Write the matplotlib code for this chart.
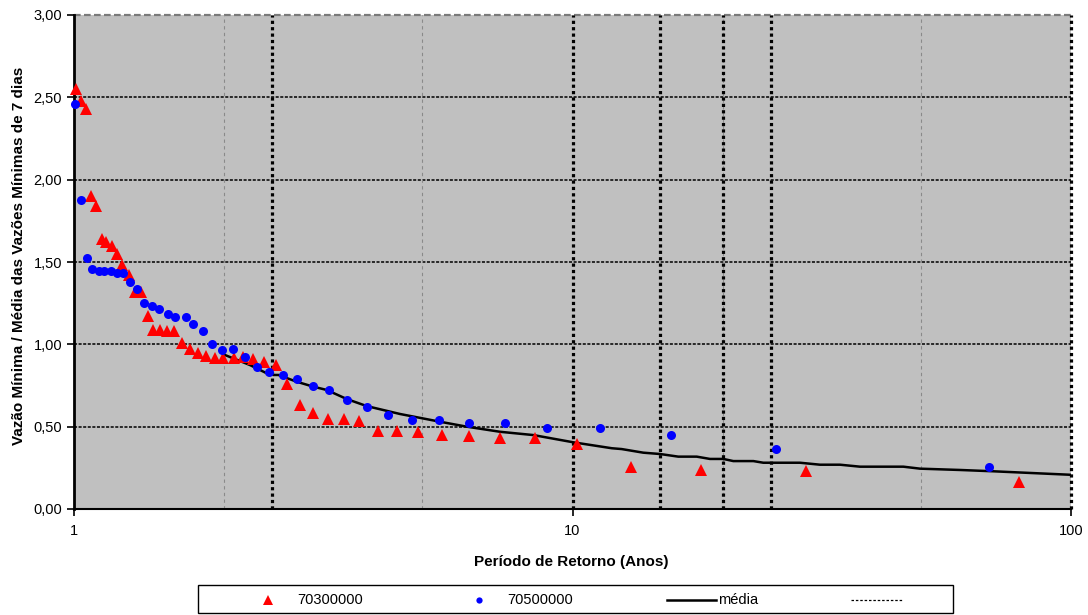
import matplotlib
matplotlib.use("Agg")
import matplotlib.pyplot as plt
from matplotlib.lines import Line2D
from matplotlib.patches import Rectangle
from matplotlib.ticker import NullLocator

plt.rcParams['font.family'] = ['Liberation Sans', 'DejaVu Sans']

# Station 70300000: return period (years) and ratio to mean 7-day minimum flow
t_70300000 = [1.009, 1.031, 1.055, 1.082, 1.107, 1.137, 1.158, 1.190, 1.218, 1.250,
              1.289, 1.326, 1.363, 1.405, 1.440, 1.488, 1.535, 1.587, 1.644, 1.709,
              1.776, 1.840, 1.918, 1.993, 2.094, 2.180, 2.283, 2.405, 2.539, 2.678,
              2.841, 3.012, 3.232, 3.480, 3.730, 4.072, 4.446, 4.898, 5.473, 6.209,
              7.153, 8.402, 10.22, 13.09, 18.13, 29.4, 78.8]
v_70300000 = [2.55, 2.48, 2.43, 1.90, 1.84, 1.64, 1.62, 1.60, 1.55, 1.48,
              1.42, 1.32, 1.32, 1.17, 1.09, 1.09, 1.08, 1.08, 1.01, 0.97,
              0.945, 0.93, 0.92, 0.92, 0.92, 0.925, 0.91, 0.89, 0.875, 0.76,
              0.63, 0.585, 0.545, 0.545, 0.535, 0.475, 0.475, 0.47, 0.45, 0.443,
              0.43, 0.433, 0.395, 0.253, 0.237, 0.231, 0.164]

# Station 70500000
t_70500000 = [1.005, 1.033, 1.063, 1.087, 1.122, 1.147, 1.187, 1.221, 1.256, 1.297,
              1.338, 1.382, 1.434, 1.483, 1.544, 1.597, 1.674, 1.734, 1.815, 1.892,
              1.983, 2.086, 2.203, 2.329, 2.465, 2.623, 2.805, 3.020, 3.248, 3.533,
              3.866, 4.265, 4.764, 5.405, 6.209, 7.330, 8.902, 11.36, 15.79, 25.63,
              68.56]
v_70500000 = [2.457, 1.878, 1.526, 1.455, 1.447, 1.443, 1.443, 1.431, 1.431, 1.376,
              1.339, 1.253, 1.231, 1.212, 1.186, 1.164, 1.164, 1.125, 1.078, 1.005,
              0.968, 0.970, 0.922, 0.860, 0.835, 0.812, 0.788, 0.749, 0.724, 0.662,
              0.621, 0.569, 0.542, 0.542, 0.520, 0.520, 0.494, 0.494, 0.451, 0.366,
              0.257]

# Mean curve
t_media = [2.009, 2.255, 2.436, 2.511, 2.570, 2.797, 3.020, 3.213, 3.524, 3.866,
           4.508, 5.423, 6.135, 7.153, 8.346, 10.04, 11.99, 12.55, 13.87, 14.98,
           16.30, 17.75, 18.87, 20.07, 21.02, 23.06, 24.14, 28.60, 31.37, 34.41,
           37.74, 46.10, 49.78, 59.89, 69.87, 99.5]
v_media = [0.935, 0.874, 0.824, 0.814, 0.814, 0.773, 0.743, 0.723, 0.668, 0.625,
           0.577, 0.530, 0.500, 0.469, 0.449, 0.405, 0.369, 0.364, 0.342, 0.334,
           0.318, 0.318, 0.304, 0.304, 0.291, 0.291, 0.281, 0.281, 0.269, 0.269,
           0.257, 0.257, 0.245, 0.237, 0.229, 0.208]

# Reference return periods marked with heavy dotted verticals
t_referencia = [2.5, 10, 15, 20, 25, 100]
# Light vertical gridlines
t_grade = [2, 5, 20, 50]

y_ticks = [0.0, 0.5, 1.0, 1.5, 2.0, 2.5, 3.0]
x_ticks = [1, 10, 100]
x_tick_labels = ['1', '10', '100']

W, H = 1088, 615
fig = plt.figure(figsize=(W / 100, H / 100), dpi=100)
fig.patch.set_facecolor('white')

L, R, T, B = 74, 1071, 15, 509
ax = fig.add_axes([L / W, 1 - B / H, (R - L) / W, (B - T) / H])
ax.set_facecolor('#C0C0C0')
ax.set_xscale('log')
ax.set_xlim(1, 100)
ax.set_ylim(0, 3)

# Horizontal gridlines
for yv in y_ticks[1:-1]:
    ax.axhline(yv, color='black', linewidth=1.1, linestyle=(0, (2, 1)), zorder=1)
ax.axhline(y_ticks[-1], color='#7a7a7a', linewidth=1.6, linestyle=(0, (3, 1.5)),
           zorder=1, clip_on=False)

# Light vertical gridlines
for xv in t_grade:
    ax.axvline(xv, color='#8a8a8a', linewidth=0.8, linestyle=(0, (3, 3)), zorder=1)

# Heavy dotted verticals
for xv in t_referencia:
    ax.axvline(xv, color='black', linewidth=2.3, linestyle=(0, (1, 1)), zorder=2,
               clip_on=False)

ax.plot(t_media, v_media, color='black', linewidth=1.8, zorder=3)
ax.plot(t_70300000, v_70300000, linestyle='none', marker='^', markersize=8.5,
        color='#FF0000', markeredgewidth=0, zorder=7, clip_on=False)
ax.plot(t_70500000, v_70500000, linestyle='none', marker='o', markersize=6.5,
        color='#0000FF', markeredgewidth=0, zorder=8, clip_on=False)

ax.set_yticks(y_ticks)
ax.set_yticklabels([f'{v:.2f}'.replace('.', ',') for v in y_ticks])
ax.set_xticks(x_ticks)
ax.set_xticklabels(x_tick_labels)
ax.xaxis.set_minor_locator(NullLocator())
ax.tick_params(axis='both', labelsize=10.5, colors='black', direction='out',
               length=5, width=1.2)
ax.tick_params(axis='x', pad=6)

ax.spines['top'].set_visible(False)
ax.spines['right'].set_visible(False)
ax.spines['left'].set_linewidth(2.0)
ax.spines['bottom'].set_linewidth(1.5)
ax.spines['left'].set_zorder(6)
ax.spines['bottom'].set_zorder(6)

fig.text(19 / W, 1 - 256 / H, 'Vazão Mínima / Média das Vazões Mínimas de 7 dias',
         rotation=90, ha='center', va='center', fontsize=11, fontweight='bold')
fig.text(571 / W, 1 - 562 / H, 'Período de Retorno (Anos)',
         ha='center', va='center', fontsize=11, fontweight='bold')

# Legend box
lx0, lx1, ly0, ly1 = 198, 953, 585, 613
fig.patches.append(Rectangle((lx0 / W, 1 - ly1 / H), (lx1 - lx0) / W, (ly1 - ly0) / H,
                             transform=fig.transFigure, facecolor='white',
                             edgecolor='black', linewidth=1.0))
ly = 1 - 600 / H
fig.lines.append(Line2D([268 / W], [ly], transform=fig.transFigure, marker='^',
                        markersize=7, color='#FF0000', markeredgewidth=0,
                        linestyle='none'))
fig.text(297 / W, ly, '70300000', ha='left', va='center', fontsize=10.5)
fig.lines.append(Line2D([479 / W], [ly], transform=fig.transFigure, marker='o',
                        markersize=4.5, color='#0000FF', markeredgewidth=0,
                        linestyle='none'))
fig.text(507 / W, ly, '70500000', ha='left', va='center', fontsize=10.5)
fig.lines.append(Line2D([667 / W, 716 / W], [ly, ly], transform=fig.transFigure,
                        color='black', linewidth=1.8))
fig.text(718 / W, ly, 'média', ha='left', va='center', fontsize=10.5)
fig.lines.append(Line2D([851 / W, 902 / W], [ly, ly], transform=fig.transFigure,
                        color='black', linewidth=0.9, linestyle=(0, (2, 1.5))))

fig.savefig('out.png', dpi=100)
